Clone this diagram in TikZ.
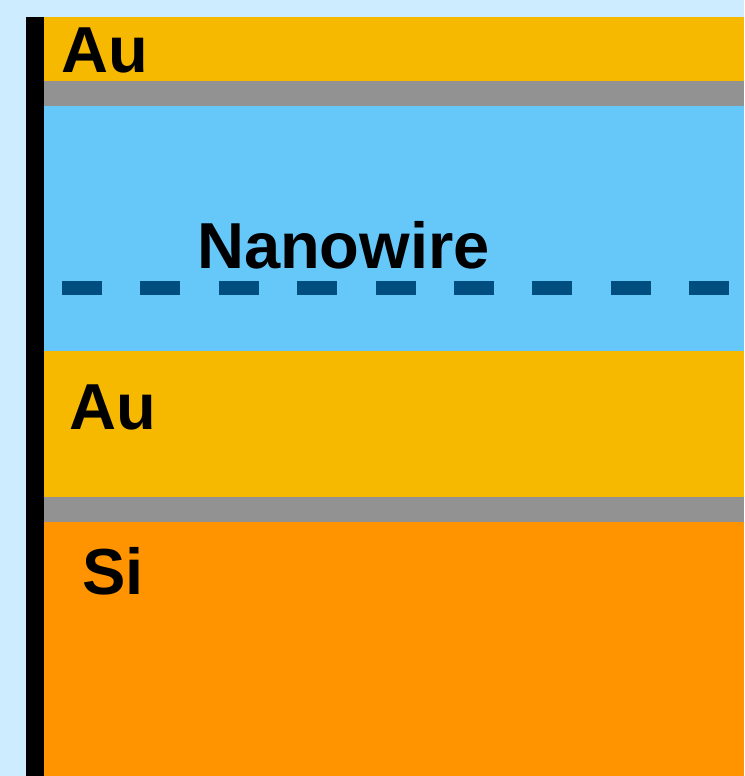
\documentclass[tikz,border=0pt]{standalone}
\usepackage{fontspec}
\setmainfont{Liberation Sans}
\definecolor{bgblue}{RGB}{205,236,255}
\definecolor{gold}{RGB}{247,185,0}
\definecolor{spacer}{RGB}{146,146,146}
\definecolor{wireblue}{RGB}{102,199,249}
\definecolor{axisblue}{RGB}{0,77,128}
\definecolor{silicon}{RGB}{255,147,0}
\begin{document}
\begin{tikzpicture}[x=1pt,y=-1pt,
  layer/.style={fill=#1,draw=none},
  lbl/.style={anchor=base west,inner sep=0pt,font=\fontsize{65}{65}\selectfont\bfseries}]
\useasboundingbox (0,0) rectangle (744,776);
\fill[bgblue] (0,0) rectangle (744,776);
% layer stack
\fill[layer=gold]     (44,17)  rectangle (744,81);
\fill[layer=spacer]   (44,81)  rectangle (744,106);
\fill[layer=wireblue] (44,106) rectangle (744,351);
\fill[layer=gold]     (44,351) rectangle (744,497);
\fill[layer=spacer]   (44,497) rectangle (744,522);
\fill[layer=silicon]  (44,522) rectangle (744,776);
% substrate edge
\fill[black] (26,17) rectangle (44,776);
% nanowire axis
\coordinate (axisL) at (62,288);
\coordinate (axisR) at (729,288);
\draw[axisblue,line width=14pt,dash pattern=on 40pt off 38.375pt] (axisL) -- (axisR);
% labels
\node[lbl] (au1) at (61,73) {Au};
\node[lbl] (wire) at (197,268) {Nanowire};
\node[lbl] (au2) at (69,429) {Au};
\node[lbl] (si) at (82,594) {Si};
\end{tikzpicture}
\end{document}
